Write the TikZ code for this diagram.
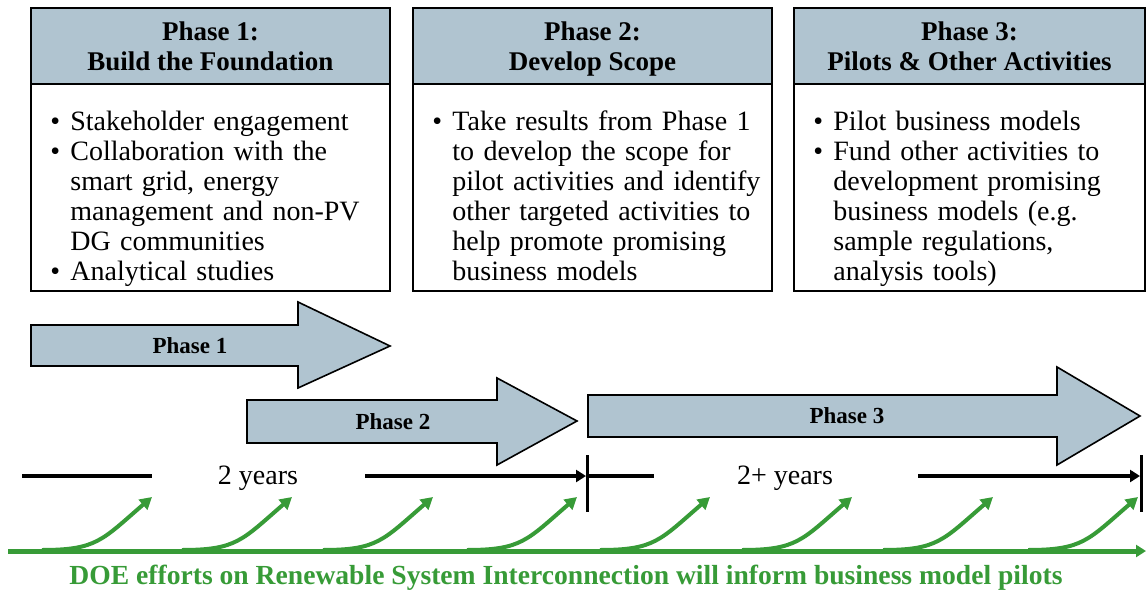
\documentclass[tikz,border=0pt]{standalone}
\usepackage{fontspec}
\setmainfont{Liberation Serif}
\usetikzlibrary{arrows.meta}
\definecolor{phaseblue}{RGB}{176,196,208}
\definecolor{doegreen}{RGB}{55,155,55}
\newcommand{\bul}{\par\noindent\hangindent=10pt\hangafter=1\makebox[10pt][l]{\textbullet}}
\begin{document}
\begin{tikzpicture}[x=0.5pt,y=-0.5pt,
  box/.style={draw,line width=0.8pt},
  hdr/.style={box,fill=phaseblue},
  hdrtxt/.style={align=center,font=\bfseries\fontsize{13.5}{15}\selectfont},
  bodytxt/.style={anchor=north west,inner sep=0pt,text width=172pt,font=\fontsize{14}{15}\selectfont},
  bigarrow/.style={draw,fill=phaseblue,line width=0.8pt},
  arrowlbl/.style={font=\bfseries\fontsize{11.5}{12}\selectfont},
  yearlbl/.style={font=\fontsize{14}{15}\selectfont},
  tline/.style={line width=2pt},
  tick/.style={line width=1.5pt},
  greenarr/.style={doegreen,line width=2pt,-{Triangle[length=6pt,width=6.5pt]}}]
\useasboundingbox (0,0) rectangle (1146,594);
% phase boxes
\draw[hdr] (31,8) rectangle (390,84);
\draw[box] (31,84) rectangle (390,291);
\draw[hdr] (413,8) rectangle (772,84);
\draw[box] (413,84) rectangle (772,291);
\draw[hdr] (794,8) rectangle (1145,84);
\draw[box] (794,84) rectangle (1145,291);
\node[hdrtxt] (h1) at (210.5,49) {Phase 1:\strut\\Build the Foundation\strut};
\node[hdrtxt] (h2) at (592.5,49) {Phase 2:\strut\\Develop Scope\strut};
\node[hdrtxt] (h3) at (969.5,49) {Phase 3:\strut\\Pilots \& Other Activities\strut};
\node[bodytxt] (b1) at (50,100) {\bul Stakeholder engagement
  \bul Collaboration with the\newline smart grid, energy\newline management and non-PV\newline DG communities
  \bul Analytical studies\par};
\node[bodytxt] (b2) at (432,100) {\bul Take results from Phase 1\newline to develop the scope for\newline pilot activities and identify\newline other targeted activities to\newline help promote promising\newline business models\par};
\node[bodytxt] (b3) at (813,100) {\bul Pilot business models
  \bul Fund other activities to\newline development promising\newline business models (e.g.\newline sample regulations,\newline analysis tools)\par};
% phase arrows
\draw[bigarrow] (31,325) -- (298,325) -- (298,302) -- (390,346) -- (298,388) -- (298,366) -- (31,366) -- cycle;
\node[arrowlbl] (a1) at (190,346) {Phase 1};
\draw[bigarrow] (247,400) -- (497,400) -- (497,378) -- (577,421) -- (497,465) -- (497,443) -- (247,443) -- cycle;
\node[arrowlbl] (a2) at (393,422) {Phase 2};
\draw[bigarrow] (588,395) -- (1057,395) -- (1057,367) -- (1140,416) -- (1057,465) -- (1057,437) -- (588,437) -- cycle;
\node[arrowlbl] (a3) at (847,416) {Phase 3};
% timeline
\node[yearlbl] (y1) at (258,478) {2 years};
\node[yearlbl] (y2) at (785,478) {2+ years};
\draw[tline] (22,476) -- (152,476);
\draw[tline,-{Triangle[length=5pt,width=6pt]}] (365,476) -- (586,476);
\draw[tick] (587,455) -- (587,512);
\draw[tline] (587,476) -- (654,476);
\draw[tline,-{Triangle[length=5pt,width=6pt]}] (918,476) -- (1140,476);
\draw[tick] (1141,455) -- (1141,512);
% DOE efforts
\draw[doegreen,line width=2.5pt,-{Triangle[length=5pt,width=6pt]}] (8,551) -- (1146,551);
\foreach \t in {152,292,433,577,710,852,993,1138}
  \draw[greenarr] (\t-110,550) .. controls (\t-55,550) and (\t-50,540) .. (\t,497);
\node[font=\bfseries\fontsize{13.8}{15}\selectfont,text=doegreen] (doe) at (566,578) {DOE efforts on Renewable System Interconnection will inform business model pilots};
\end{tikzpicture}
\end{document}
